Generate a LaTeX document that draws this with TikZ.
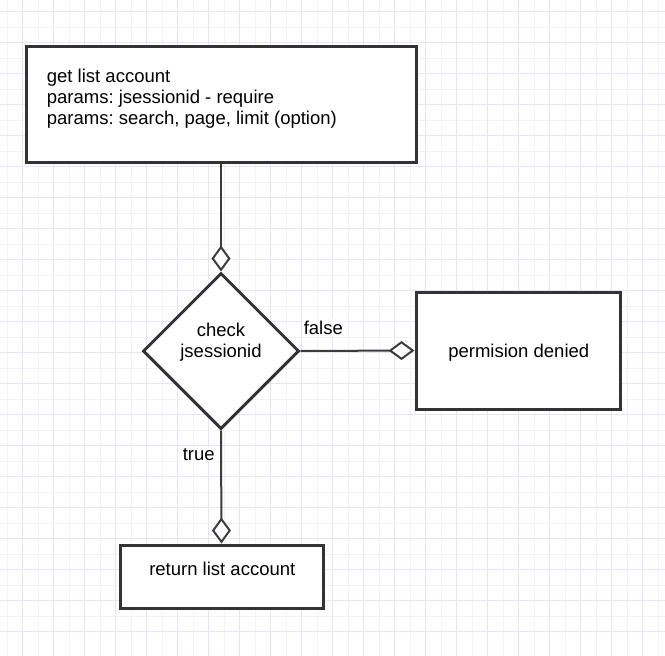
\documentclass[tikz,border=0pt]{standalone}
\usepackage{fontspec}
\setmainfont{Liberation Sans}
\usetikzlibrary{arrows.meta,shapes.geometric}
\definecolor{gridmajor}{HTML}{E4E4FA}
\definecolor{gridminor}{HTML}{F2F2FD}
\definecolor{edge}{HTML}{333333}
\definecolor{wire}{HTML}{3C3C3C}
\frenchspacing
\tikzset{
  box/.style={draw=edge, line width=3pt, fill=white, rectangle, inner sep=0pt},
  decision/.style={draw=edge, line width=3pt, fill=white, diamond, inner sep=0pt, minimum width=156pt, minimum height=156pt},
  txt/.style={inner sep=0pt, anchor=base, font=\fontsize{18.5}{20.7}\selectfont\frenchspacing},
  txtl/.style={txt, anchor=base west},
  lbl/.style={txt, fill=white, inner sep=1.5pt},
  conn/.style={draw=wire, line width=2pt, -{Diamond[length=26pt,width=19pt,fill=white,line width=2pt]}},
}
\begin{document}
\begin{tikzpicture}[x=1pt,y=-1pt]
\useasboundingbox (0,0) rectangle (665,656);
\fill[white] (0,0) rectangle (665,656);
% grid
\foreach \k in {0,2,...,42} { \draw[gridminor, line width=1pt] ({7.2+15.5*\k},0) -- ({7.2+15.5*\k},656); }
\foreach \k in {0,2,...,40} { \draw[gridminor, line width=1pt] (0,{-4+15.5*\k}) -- (665,{-4+15.5*\k}); }
\foreach \k in {1,3,...,41} { \draw[gridmajor, line width=1pt] ({7.2+15.5*\k},0) -- ({7.2+15.5*\k},656); }
\foreach \k in {1,3,...,41} { \draw[gridmajor, line width=1pt] (0,{-4+15.5*\k}) -- (665,{-4+15.5*\k}); }
% shapes
\node[box, minimum width=390pt, minimum height=115.5pt] (start) at (221,104.3) {};
\node[txtl] (s1) at (46.7,82.7) {get list account};
\node[txtl] (s2) at (46.7,103.4) {params: jsessionid - require};
\node[txtl] (s3) at (46.7,124.1) {params: search, page, limit (option)};
\node[decision] (check) at (221,351) {};
\node[txt] (c1) at (221,336.7) {check};
\node[txt] (c2) at (221,357.4) {jsessionid};
\node[box, minimum width=204pt, minimum height=117pt] (deny) at (518,350.5) {};
\node[txt] (d1) at (518.8,357.2) {permision denied};
\node[box, minimum width=203pt, minimum height=63pt] (ret) at (221.5,576.5) {};
\node[txt] (r1) at (222.3,575) {return list account};
% connectors
\draw[conn] (start.south) -- (check.north);
\draw[conn] (check.east) -- (deny.west);
\draw[conn] (check.south) -- (ret.north);
\node[lbl] (lf) at (323.3,334.3) {false};
\node[lbl] (lt) at (198.7,460) {true};
\end{tikzpicture}
\end{document}
